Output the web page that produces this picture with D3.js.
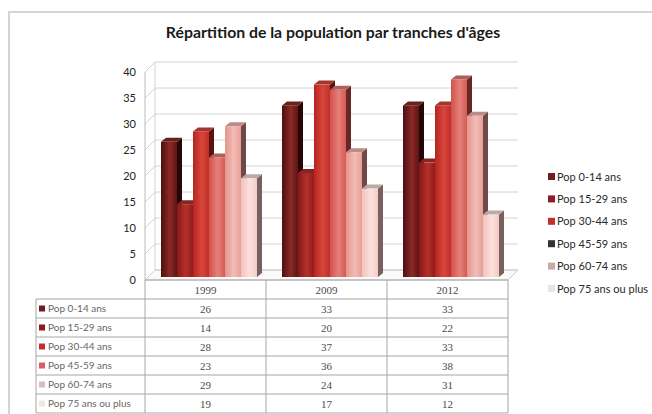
<!DOCTYPE html>
<html>
<head>
<meta charset="utf-8">
<script src="https://cdn.jsdelivr.net/npm/d3@7"></script>
<style>
  html, body { margin: 0; padding: 0; background: #fff; }
  svg { display: block; }
</style>
</head>
<body>
<svg id="chart" width="652" height="414"></svg>
<script>
// Years shown on the category axis and in the data table
const years = ["1999", "2009", "2012"];
// Age brackets (one series each)
const series = ["Pop 0-14 ans", "Pop 15-29 ans", "Pop 30-44 ans", "Pop 45-59 ans", "Pop 60-74 ans", "Pop 75 ans ou plus"];
// Values per series, in the order of the years
const pop0_14  = [26, 33, 33];
const pop15_29 = [14, 20, 22];
const pop30_44 = [28, 37, 33];
const pop45_59 = [23, 36, 38];
const pop60_74 = [29, 24, 31];
const pop75    = [19, 17, 12];
const yTicks = [0, 5, 10, 15, 20, 25, 30, 35, 40];

const values = [pop0_14, pop15_29, pop30_44, pop45_59, pop60_74, pop75];

// Face colours of the columns: [left shade, centre highlight, right shade]
const barShades = [
  ["#4e0f10", "#8a2a26", "#5e1414"],
  ["#861818", "#b5302a", "#8f1c1a"],
  ["#b5241f", "#d8463b", "#bf2e28"],
  ["#d2514b", "#e6807a", "#d65a54"],
  ["#e3958d", "#f3bcb5", "#e69f98"],
  ["#f2c3bd", "#fbe0dc", "#f4cbc6"]
];
// Key colours for the right-hand legend and for the data table
const legendKeys = ["#6e1f24", "#8c1c2c", "#c2302b", "#333333", "#c8aaa6", "#e6e6e6"];
const tableKeys  = ["#6d1f28", "#8e1a1a", "#c0302e", "#d4606a", "#d9bcbc", "#f3e6e6"];

const svg = d3.select("#chart");
const defs = svg.append("defs");

barShades.forEach((s, i) => {
  const g = defs.append("linearGradient").attr("id", "bar" + i)
    .attr("x1", "0%").attr("x2", "100%").attr("y1", "0%").attr("y2", "0%");
  g.append("stop").attr("offset", "0%").attr("stop-color", s[0]);
  g.append("stop").attr("offset", "55%").attr("stop-color", s[1]);
  g.append("stop").attr("offset", "100%").attr("stop-color", s[2]);
});

// Outer chart frame
svg.append("rect").attr("x", 9).attr("y", 12).attr("width", 700).attr("height", 450)
  .attr("fill", "#fff").attr("stroke", "#d4d4d4").attr("stroke-width", 2);

// Title
svg.append("text").attr("x", 333).attr("y", 38).attr("text-anchor", "middle")
  .attr("font-family", "Lato, 'Open Sans', sans-serif").attr("font-weight", "bold")
  .attr("font-size", 15.8).attr("fill", "#1a1a1a")
  .text("Répartition de la population par tranches d'âges");

// Scales
const x = d3.scaleBand().domain(years).range([145, 508]);
const xs = d3.scaleBand().domain(series).range([13, 109]);
const y = d3.scaleLinear().domain([0, 40]).range([280, 72]);

// Depth of the 3D box (back wall offset) and of each column
const depth = { dx: 10, dy: -10 };
const barDepth = { dx: 5, dy: -4 };
const barShift = { dx: 3, dy: -3 };

const x0 = x.range()[0], x1 = x.range()[1];

// Floor
svg.append("path")
  .attr("d", `M${x0},${y(0)} L${x1},${y(0)} L${x1 + depth.dx},${y(0) + depth.dy} L${x0 + depth.dx},${y(0) + depth.dy} Z`)
  .attr("fill", "#fafafa").attr("stroke", "#c8c8c8");

// Gridlines on the back and side walls
const grid = svg.append("g").attr("stroke", "#d2d2d2").attr("fill", "none");
yTicks.forEach(t => {
  grid.append("path")
    .attr("d", `M${x0},${y(t)} L${x0 + depth.dx},${y(t) + depth.dy} L${x1 + depth.dx},${y(t) + depth.dy}`);
});
// Wall edges
grid.append("line").attr("x1", x0).attr("x2", x0).attr("y1", y(40)).attr("y2", y(0)).attr("stroke", "#bdbdbd");
grid.append("line").attr("x1", x0 + depth.dx).attr("x2", x0 + depth.dx)
  .attr("y1", y(40) + depth.dy).attr("y2", y(0) + depth.dy);

// Y axis labels
const yAxis = d3.axisLeft(y).tickValues(yTicks).tickSize(0).tickPadding(0);
const ya = svg.append("g").attr("transform", "translate(136,0)").call(yAxis);
ya.select(".domain").remove();
ya.selectAll("text").attr("font-family", "Lato, 'Open Sans', sans-serif")
  .attr("font-size", 11).attr("fill", "#222");

// Columns
const bars = svg.append("g");
years.forEach((yr, yi) => {
  series.forEach((s, si) => {
    const v = values[si][yi];
    const bx = x(yr) + xs(s) + barShift.dx;
    const bw = xs.bandwidth();
    const top = y(v) + barShift.dy;
    const bottom = y(0) + barShift.dy;
    const base = d3.color(barShades[si][1]);
    const g = bars.append("g");
    // right side face
    g.append("path")
      .attr("d", `M${bx + bw},${top} L${bx + bw + barDepth.dx},${top + barDepth.dy} L${bx + bw + barDepth.dx},${bottom + barDepth.dy} L${bx + bw},${bottom} Z`)
      .attr("fill", d3.color(barShades[si][0]).darker(2));
    // top face
    g.append("path")
      .attr("d", `M${bx},${top} L${bx + barDepth.dx},${top + barDepth.dy} L${bx + bw + barDepth.dx},${top + barDepth.dy} L${bx + bw},${top} Z`)
      .attr("fill", base.darker(0.8));
    // front face
    g.append("rect").attr("x", bx).attr("y", top).attr("width", bw).attr("height", bottom - top)
      .attr("fill", `url(#bar${si})`);
  });
});

// Data table
const rowH = 19;
const headTop = y(0);
const headH = 19;
const labelLeft = 36;
const tbl = svg.append("g").attr("stroke", "#a6a6a6").attr("fill", "none");
const tableBottom = headTop + headH + rowH * series.length;
// vertical lines
[x0, ...years.map(yr => x(yr) + x.bandwidth())].forEach(vx => {
  tbl.append("line").attr("x1", vx).attr("x2", vx).attr("y1", headTop).attr("y2", tableBottom);
});
tbl.append("line").attr("x1", labelLeft).attr("x2", labelLeft).attr("y1", headTop + headH).attr("y2", tableBottom);
// horizontal lines
tbl.append("line").attr("x1", x0).attr("x2", x1).attr("y1", headTop).attr("y2", headTop);
for (let r = 0; r <= series.length; r++) {
  const ly = headTop + headH + r * rowH;
  tbl.append("line").attr("x1", labelLeft).attr("x2", x1).attr("y1", ly).attr("y2", ly);
}

const tText = svg.append("g").attr("fill", "#4a4a4a");
years.forEach(yr => {
  tText.append("text").attr("x", x(yr) + x.bandwidth() / 2).attr("y", headTop + headH / 2 + 4)
    .attr("text-anchor", "middle").attr("font-family", "'Liberation Serif', serif").attr("font-size", 11)
    .text(yr);
});
series.forEach((s, si) => {
  const cy = headTop + headH + si * rowH + rowH / 2;
  tText.append("rect").attr("x", labelLeft + 3).attr("y", cy - 3).attr("width", 6).attr("height", 6)
    .attr("fill", tableKeys[si]);
  tText.append("text").attr("x", labelLeft + 12).attr("y", cy + 3.5)
    .attr("font-family", "Lato, 'Open Sans', sans-serif").attr("font-size", 10).attr("fill", "#666")
    .text(s);
  years.forEach((yr, yi) => {
    tText.append("text").attr("x", x(yr) + x.bandwidth() / 2).attr("y", cy + 4)
      .attr("text-anchor", "middle").attr("font-family", "'Liberation Serif', serif").attr("font-size", 11)
      .text(values[si][yi]);
  });
});

// Legend
const legend = svg.append("g");
series.forEach((s, si) => {
  const ly = 177 + si * 22.4;
  legend.append("rect").attr("x", 548).attr("y", ly - 4).attr("width", 7).attr("height", 7)
    .attr("fill", legendKeys[si]);
  legend.append("text").attr("x", 557).attr("y", ly + 3.5)
    .attr("font-family", "Lato, 'Open Sans', sans-serif").attr("font-size", 11).attr("fill", "#2a2a2a")
    .text(s);
});
</script>
</body>
</html>
